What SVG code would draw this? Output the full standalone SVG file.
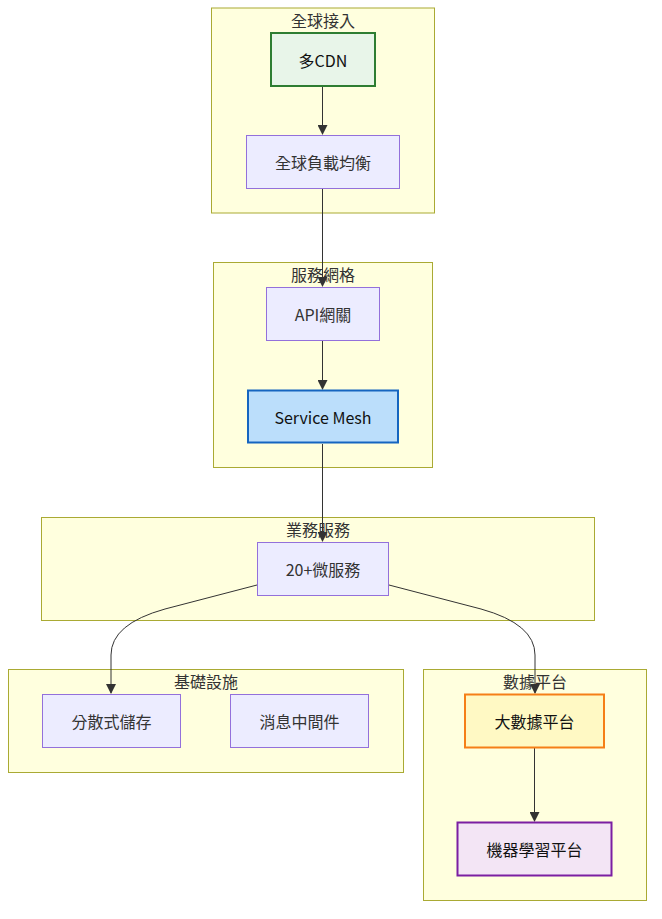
<svg xmlns="http://www.w3.org/2000/svg" width="662" height="919" viewBox="0 0 662 919">
<style>
text{font-family:"Noto Sans CJK TC","Noto Sans",sans-serif;font-size:16px;fill:#333;text-anchor:middle;dominant-baseline:central}
text.d{fill:#111}
.cl{fill:#ffffde;stroke:#aaaa33;stroke-width:1}
.n{fill:#ececff;stroke:#9370db;stroke-width:1}
.e{fill:none;stroke:#333;stroke-width:1}
</style>
<defs>
<marker id="ah" markerUnits="userSpaceOnUse" markerWidth="10" markerHeight="10" refX="9" refY="5" orient="auto" viewBox="0 0 10 10">
<path d="M0,0 L10,5 L0,10 z" fill="#333"/>
</marker>
</defs>
<g id="cluster-access"><rect class="cl" x="211.5" y="8" width="223" height="205"/><text x="323" y="19.5">全球接入</text></g>
<g id="cluster-mesh"><rect class="cl" x="213.5" y="262.5" width="219" height="205"/><text x="323" y="274">服務網格</text></g>
<g id="cluster-biz"><rect class="cl" x="41.5" y="517.5" width="553" height="103"/><text x="318" y="529">業務服務</text></g>
<g id="cluster-infra"><rect class="cl" x="8.5" y="669.5" width="395" height="103"/><text x="206" y="681">基礎設施</text></g>
<g id="cluster-data"><rect class="cl" x="423.5" y="669.5" width="223" height="231"/><text x="535" y="681">數據平台</text></g>

<g id="connectors">
<path class="e" d="M322.5,87 L322.5,134" marker-end="url(#ah)"/>
<path class="e" d="M322.5,189 L322.5,286" marker-end="url(#ah)"/>
<path class="e" d="M322.5,341 L322.5,389" marker-end="url(#ah)"/>
<path class="e" d="M322.5,444 L322.5,541" marker-end="url(#ah)"/>
<path class="e" d="M257,585 L165,609 Q111,624 111,655 L111,693" marker-end="url(#ah)"/>
<path class="e" d="M389,585 L481,609 Q535,624 535,655 L535,693" marker-end="url(#ah)"/>
<path class="e" d="M534.5,748 L534.5,821" marker-end="url(#ah)"/>
</g>

<g id="cdn"><rect x="271" y="33" width="104" height="53" fill="#e8f5e9" stroke="#2e7d32" stroke-width="2"/><text class="d" x="323" y="59.5">多CDN</text></g>
<g id="glb"><rect class="n" x="246.5" y="135.5" width="153" height="53"/><text x="323" y="162">全球負載均衡</text></g>
<g id="api"><rect class="n" x="266.5" y="287.5" width="113" height="53"/><text x="323" y="314">API網關</text></g>
<g id="servicemesh"><rect x="248" y="390.5" width="150" height="52" fill="#bbdefb" stroke="#1565c0" stroke-width="2"/><text class="d" x="323" y="416.5">Service Mesh</text></g>
<g id="micro"><rect class="n" x="257.5" y="542.5" width="131" height="53"/><text x="323" y="569">20+微服務</text></g>
<g id="storage"><rect class="n" x="42.5" y="694.5" width="138" height="53"/><text x="111.5" y="721">分散式儲存</text></g>
<g id="mq"><rect class="n" x="230.5" y="694.5" width="138" height="53"/><text x="299.5" y="721">消息中間件</text></g>
<g id="bigdata"><rect x="465" y="694.5" width="139" height="53" fill="#fff9c4" stroke="#f57f17" stroke-width="2"/><text class="d" x="534.5" y="721">大數據平台</text></g>
<g id="ml"><rect x="457.5" y="822.5" width="154" height="53" fill="#f3e5f5" stroke="#7b1fa2" stroke-width="2"/><text class="d" x="534.5" y="849">機器學習平台</text></g>
</svg>
